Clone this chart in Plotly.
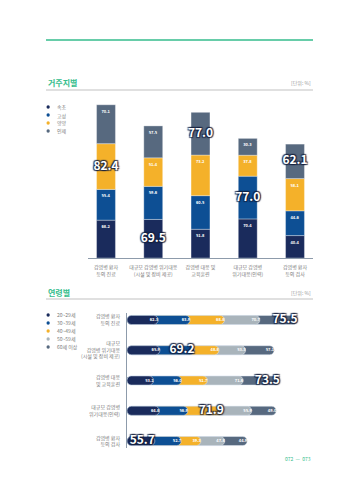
import plotly.graph_objects as go
import numpy as np

# ---------------- data ----------------
top_categories = ["감염병 환자<br>등의 진료", "대규모 감염병 위기대응<br>(시설 및 장비 제공)",
                  "감염병 대응 및<br>교육훈련", "대규모 감염병<br>위기대응(인력)", "감염병 환자<br>등의 검사"]
region_names = ["속초", "고성", "양양", "인제"]
sokcho = [68.2, 69.5, 51.8, 70.4, 40.4]
goseong = [55.4, 59.6, 60.5, 77.0, 44.6]
yangyang = [82.4, 51.4, 73.2, 37.8, 58.1]
inje = [70.1, 57.5, 77.0, 30.3, 62.1]

age_categories = ["감염병 환자<br>등의 진료", "대규모<br>감염병 위기대응<br>(시설 및 장비 제공)",
                  "감염병 대응<br>및 교육훈련", "대규모 감염병<br>위기대응(인력)", "감염병 환자<br>등의 검사"]
age_names = ["20~29세", "30~39세", "40~49세", "50~59세", "60세 이상"]
age20 = [62.3, 65.9, 53.1, 64.8, 55.7]
age30 = [63.9, 69.2, 56.0, 56.9, 52.7]
age40 = [68.8, 48.8, 51.7, 71.9, 39.3]
age50 = [70.7, 53.3, 71.6, 55.9, 47.8]
age60 = [75.5, 57.1, 73.5, 49.0, 44.9]

# ---------------- styles ----------------
W, H = 351, 480
FONT = "Noto Sans CJK KR"
NAVY, BLUE, YELLOW, LGRAY, SLATE = "#1a2b5c", "#0d4f94", "#f4b12a", "#a9b4bb", "#57697f"
GREEN = "#35bd8c"
TXT = "#7a7a7a"
SHADOW = ("1px 1px 1px rgba(20,30,60,0.85), -1px -1px 1px rgba(20,30,60,0.85), "
          "1px -1px 1px rgba(20,30,60,0.85), -1px 1px 1px rgba(20,30,60,0.85)")

def px(x):
    return x / W

def py(y):
    return 1 - y / H

fig = go.Figure()

# ---------------- top stacked chart ----------------
top_series = [sokcho, goseong, yangyang, inje]
top_colors = [NAVY, BLUE, YELLOW, SLATE]
arr = np.array(top_series)
col_max = arr.max(axis=0)
base = np.zeros(arr.shape[1])
big_x, big_y, big_t = [], [], []
for name, vals, c in zip(region_names, top_series, top_colors):
    vals = np.array(vals)
    small_text = ["" if v == m else f"{v:.1f}" for v, m in zip(vals, col_max)]
    fig.add_trace(go.Bar(
        x=top_categories, y=vals, base=base.copy(), name=name,
        marker=dict(color=c, line=dict(color="rgba(255,255,255,0.55)", width=0.6)),
        width=0.40, text=small_text, textposition="inside", insidetextanchor="end",
        constraintext="none", textangle=0,
        insidetextfont=dict(size=4, color="white", family=FONT, weight="bold"),
        showlegend=False, xaxis="x", yaxis="y"))
    for i, (v, m) in enumerate(zip(vals, col_max)):
        if v == m:
            big_x.append(top_categories[i])
            big_y.append(base[i] + v / 2)
            big_t.append(f"{v:.1f}")
    base = base + vals

fig.add_trace(go.Scatter(
    x=big_x, y=big_y, text=big_t, mode="text", cliponaxis=False,
    textfont=dict(size=12, color="white", family=FONT, weight="bold", shadow=SHADOW),
    showlegend=False, xaxis="x", yaxis="y"))

# ---------------- bottom age chart ----------------
age_series = [age20, age30, age40, age50, age60]
age_colors = [NAVY, BLUE, YELLOW, LGRAY, SLATE]
aarr = np.array(age_series)
row_max = aarr.max(axis=0)
cum = np.cumsum(aarr, axis=0)
for k in reversed(range(len(age_series))):
    fig.add_trace(go.Bar(
        y=age_categories, x=cum[k], base=0, orientation="h", name=age_names[k],
        marker=dict(color=age_colors[k], cornerradius="50%"),
        width=0.30, showlegend=False, xaxis="x2", yaxis="y2"))

# value labels at the right end of each segment
sm_x, sm_y, sm_t, bg_x, bg_y, bg_t = [], [], [], [], [], []
for k in range(len(age_series)):
    for i, cat in enumerate(age_categories):
        v = aarr[k, i]
        if v == row_max[i]:
            bg_x.append(cum[k, i]); bg_y.append(cat); bg_t.append(f"{v:.1f}")
        else:
            sm_x.append(cum[k, i]); sm_y.append(cat); sm_t.append(f"{v:.1f}")
fig.add_trace(go.Scatter(
    x=sm_x, y=sm_y, text=sm_t, mode="text", textposition="middle left", cliponaxis=False,
    textfont=dict(size=4, color="white", family=FONT, weight="bold"),
    showlegend=False, xaxis="x2", yaxis="y2"))
fig.add_trace(go.Scatter(
    x=bg_x, y=bg_y, text=bg_t, mode="text", textposition="middle left", cliponaxis=False,
    textfont=dict(size=12, color="white", family=FONT, weight="bold", shadow=SHADOW),
    showlegend=False, xaxis="x2", yaxis="y2"))

# ---------------- layout ----------------
shapes = [
    dict(type="line", xref="paper", yref="paper", x0=px(46), x1=px(313), y0=py(40), y1=py(40),
         line=dict(color=GREEN, width=1.5)),
    dict(type="line", xref="paper", yref="paper", x0=px(46), x1=px(313), y0=py(90), y1=py(90),
         line=dict(color="#d6d6d6", width=1.5)),
    dict(type="line", xref="paper", yref="paper", x0=px(46), x1=px(313), y0=py(299), y1=py(299),
         line=dict(color="#d6d6d6", width=1.5)),
]
annotations = [
    dict(text="거주지별", x=px(46), y=py(82), xref="paper", yref="paper", xanchor="left", yanchor="middle",
         showarrow=False, font=dict(size=8, color=GREEN, family=FONT, weight="bold")),
    dict(text="연령별", x=px(46), y=py(292), xref="paper", yref="paper", xanchor="left", yanchor="middle",
         showarrow=False, font=dict(size=8, color=GREEN, family=FONT, weight="bold")),
    dict(text="[단위: %]", x=px(313), y=py(83), xref="paper", yref="paper", xanchor="right", yanchor="middle",
         showarrow=False, font=dict(size=5, color="#999999", family=FONT)),
    dict(text="[단위: %]", x=px(313), y=py(293), xref="paper", yref="paper", xanchor="right", yanchor="middle",
         showarrow=False, font=dict(size=5, color="#999999", family=FONT)),
    dict(text="072  —  073", x=px(313), y=py(458), xref="paper", yref="paper", xanchor="right", yanchor="middle",
         showarrow=False, font=dict(size=5, color=GREEN, family=FONT)),
]

# legends (manual, compact)
def add_legend(names, colors, y0):
    for i, (n, c) in enumerate(zip(names, colors)):
        yy = y0 + 8 * i
        shapes.append(dict(type="circle", xref="paper", yref="paper",
                           x0=px(46.5), x1=px(49.8), y0=py(yy + 1.65), y1=py(yy - 1.65),
                           fillcolor=c, line=dict(width=0)))
        annotations.append(dict(text=n, x=px(55), y=py(yy), xref="paper", yref="paper",
                                xanchor="left", yanchor="middle", showarrow=False,
                                font=dict(size=5, color=TXT, family=FONT)))

add_legend(region_names, top_colors, 107)
add_legend(age_names, age_colors, 315)

fig.update_layout(
    width=W, height=H, margin=dict(l=0, r=0, t=0, b=0),
    paper_bgcolor="white", plot_bgcolor="rgba(0,0,0,0)",
    barmode="overlay", font=dict(family=FONT, color=TXT),
    shapes=shapes, annotations=annotations,
    xaxis=dict(domain=[px(88), px(313)], type="category", range=[-0.381, 4.381],
               showline=True, linecolor="#8d9bab", linewidth=1, ticks="",
               tickfont=dict(size=5, color=TXT, family=FONT), ticklabelstandoff=4,
               showgrid=False, zeroline=False, anchor="y", fixedrange=True),
    yaxis=dict(domain=[py(258), py(95)], range=[0, 293.7], visible=False, anchor="x"),
    xaxis2=dict(domain=[px(127), px(340)], range=[0, 426], visible=False, anchor="y2"),
    yaxis2=dict(domain=[py(448), py(313)], type="category", range=[4.23, -0.23],
                showline=True, linecolor="#8d9bab", linewidth=1, ticks="",
                tickfont=dict(size=5, color=TXT, family=FONT), ticklabelstandoff=5,
                showgrid=False, zeroline=False, anchor="x2"),
)

fig.write_html("out.html")
